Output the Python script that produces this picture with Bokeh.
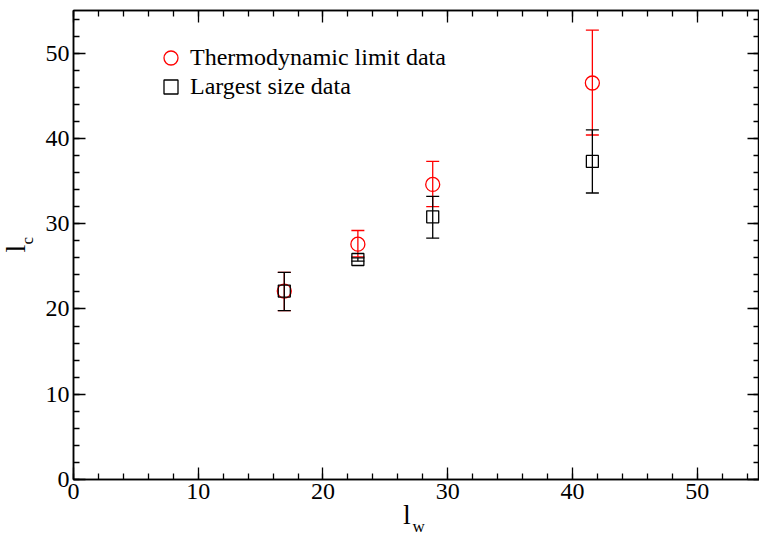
from bokeh.plotting import figure
from bokeh.models import (LinearAxis, Range1d, SingleIntervalTicker, Legend, LegendItem,
                          Title, ColumnDataSource)
from bokeh.embed import file_html
from bokeh.resources import INLINE

# ---- data ----
lw = [16.9, 22.8, 28.8, 41.6]
thermo = [22.1, 27.6, 34.6, 46.5]
thermo_lo = [19.8, 26.1, 32.0, 40.4]
thermo_hi = [24.3, 29.2, 37.3, 52.7]
largest = [22.1, 25.8, 30.8, 37.3]
largest_lo = [19.8, 25.6, 28.3, 33.6]
largest_hi = [24.3, 26.0, 33.2, 41.0]
tick_interval = 10
series_names = ["Thermodynamic limit data", "Largest size data"]

FONT = "Liberation Serif"
RED = "#ff0000"
BLACK = "#000000"

p = figure(frame_width=686, frame_height=469, output_backend="svg", toolbar_location=None,
           x_range=Range1d(0, 55), y_range=Range1d(0, 55),
           min_border_left=73, min_border_top=10, min_border_bottom=57, min_border_right=0)
p.background_fill_color = "white"
p.border_fill_color = "white"
p.grid.visible = False
p.outline_line_color = BLACK
p.outline_line_width = 1.5


def style_axis(ax, show_labels):
    ax.ticker = SingleIntervalTicker(interval=tick_interval, num_minor_ticks=5)
    ax.axis_line_color = BLACK
    ax.axis_line_width = 1.5
    ax.major_tick_in = 12
    ax.major_tick_out = 0
    ax.minor_tick_in = 6
    ax.minor_tick_out = 0
    ax.major_tick_line_color = BLACK
    ax.minor_tick_line_color = BLACK
    ax.major_tick_line_width = 1.3
    ax.minor_tick_line_width = 1.3
    ax.axis_label = None
    ax.major_label_text_font = FONT
    ax.major_label_text_font_size = "24px"
    ax.major_label_text_color = BLACK
    if not show_labels:
        ax.major_label_overrides = {v: "" for v in range(0, 60, tick_interval)}
        ax.major_label_standoff = 0


style_axis(p.xaxis[0], True)
style_axis(p.yaxis[0], True)
p.xaxis[0].major_label_standoff = 4
p.yaxis[0].major_label_standoff = 4

top_ax = LinearAxis()
right_ax = LinearAxis()
style_axis(top_ax, False)
style_axis(right_ax, False)
p.add_layout(top_ax, "above")
p.add_layout(right_ax, "right")

# ---- error bars and markers ----
src_t = ColumnDataSource(dict(x=lw, y=thermo, lo=thermo_lo, hi=thermo_hi))
src_l = ColumnDataSource(dict(x=lw, y=largest, lo=largest_lo, hi=largest_hi))

p.segment(x0="x", y0="lo", x1="x", y1="hi", source=src_t, line_color=RED, line_width=1.3)
p.scatter(x="x", y="lo", source=src_t, marker="dash", size=13, line_color=RED, line_width=1.3)
p.scatter(x="x", y="hi", source=src_t, marker="dash", size=13, line_color=RED, line_width=1.3)
r_t = p.scatter(x="x", y="y", source=src_t, marker="circle", size=14, fill_color=None,
                line_color=RED, line_width=1.3)

p.segment(x0="x", y0="lo", x1="x", y1="hi", source=src_l, line_color=BLACK, line_width=1.3)
p.scatter(x="x", y="lo", source=src_l, marker="dash", size=13, line_color=BLACK, line_width=1.3)
p.scatter(x="x", y="hi", source=src_l, marker="dash", size=13, line_color=BLACK, line_width=1.3)
r_l = p.scatter(x="x", y="y", source=src_l, marker="square", size=12, fill_color=None,
                line_color=BLACK, line_width=1.3)


def make_legend(name, renderer, loc):
    lg = Legend(items=[LegendItem(label=name, renderers=[renderer])], location=loc)
    lg.border_line_color = None
    lg.background_fill_alpha = 0
    lg.padding = 0
    lg.margin = 0
    lg.spacing = 0
    lg.glyph_width = 35
    lg.glyph_height = 35
    lg.label_height = 29
    lg.label_standoff = 2
    lg.label_text_font = FONT
    lg.label_text_font_size = "24px"
    lg.label_text_color = BLACK
    p.add_layout(lg, "center")


make_legend(series_names[0], r_t, (80, 404))
make_legend(series_names[1], r_l, (80, 375))

# ---- axis titles: "l" with subscripts ----
p.add_layout(Title(text="l", align="left", offset=329.5, standoff=-10, vertical_align="bottom",
                   text_font=FONT, text_font_size="28px", text_font_style="normal",
                   text_color=BLACK), "below")
p.add_layout(Title(text="w", align="left", offset=339, standoff=-16, vertical_align="top",
                   text_font=FONT, text_font_size="17px", text_font_style="normal",
                   text_color=BLACK), "below")
p.add_layout(Title(text="c", align="left", offset=235, standoff=7, vertical_align="top",
                   text_font=FONT, text_font_size="17px", text_font_style="normal",
                   text_color=BLACK), "left")
p.add_layout(Title(text="l", align="left", offset=227, standoff=-33, vertical_align="bottom",
                   text_font=FONT, text_font_size="28px", text_font_style="normal",
                   text_color=BLACK), "left")

open("out.html", "w").write(file_html(p, INLINE))
